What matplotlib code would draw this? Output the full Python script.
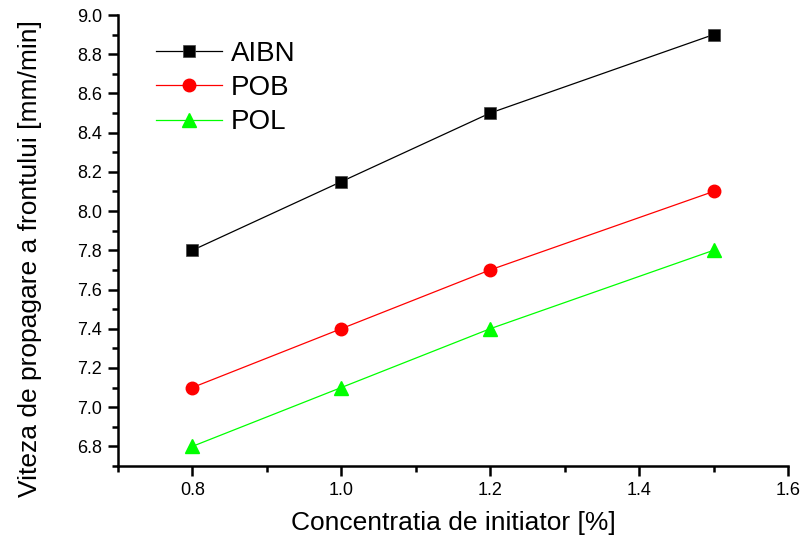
import matplotlib
matplotlib.use("Agg")
import matplotlib.pyplot as plt
from matplotlib.ticker import MultipleLocator

plt.rcParams['font.family'] = ['Liberation Sans', 'DejaVu Sans']

x = [0.8, 1.0, 1.2, 1.5]
aibn = [7.8, 8.15, 8.5, 8.9]
pob = [7.1, 7.4, 7.7, 8.1]
pol = [6.8, 7.1, 7.4, 7.8]
xticks = [0.8, 1.0, 1.2, 1.4, 1.6]
yticks = [6.8, 7.0, 7.2, 7.4, 7.6, 7.8, 8.0, 8.2, 8.4, 8.6, 8.8, 9.0]

fig = plt.figure(figsize=(8.02, 5.44), dpi=100)
ax = fig.add_axes([0.147, 0.1434, 0.8355, 0.829])

ax.plot(x, aibn, color='black', lw=0.9, marker='s', ms=8, mec='#444444', mew=0.5, label='AIBN')
ax.plot(x, pob, color='red', lw=0.9, marker='o', ms=9, mec='red', label='POB')
ax.plot(x, pol, color='#00ff00', lw=0.9, marker='^', ms=10, mec='#00ff00', label='POL')

ax.set_xlim(0.7, 1.6)
ax.set_ylim(6.7, 9.0)
ax.xaxis.set_minor_locator(MultipleLocator(0.1))
ax.yaxis.set_minor_locator(MultipleLocator(0.1))
ax.set_xticks(xticks)
ax.set_xticklabels(['%.1f' % v for v in xticks])
ax.set_yticks(yticks)
ax.set_yticklabels(['%.1f' % v for v in yticks])

for s in ['top', 'right']:
    ax.spines[s].set_visible(False)
for s in ['left', 'bottom']:
    ax.spines[s].set_linewidth(1.8)
ax.tick_params(which='major', direction='out', length=7.5, width=1.8, labelsize=13, pad=4)
ax.tick_params(which='minor', direction='out', length=4.5, width=1.8)

ax.set_xlabel('Concentratia de initiator [%]', fontsize=19, labelpad=9)
ax.set_ylabel('Viteza de propagare a frontului [mm/min]', fontsize=19)
ax.yaxis.set_label_coords(-0.113, 0.461)

leg = ax.legend(loc='upper left', bbox_to_anchor=(0.04, 0.968), frameon=False, fontsize=20,
                handlelength=2.4, handletextpad=0.3, labelspacing=0.3, borderaxespad=0)

fig.savefig('out.png', dpi=100)
